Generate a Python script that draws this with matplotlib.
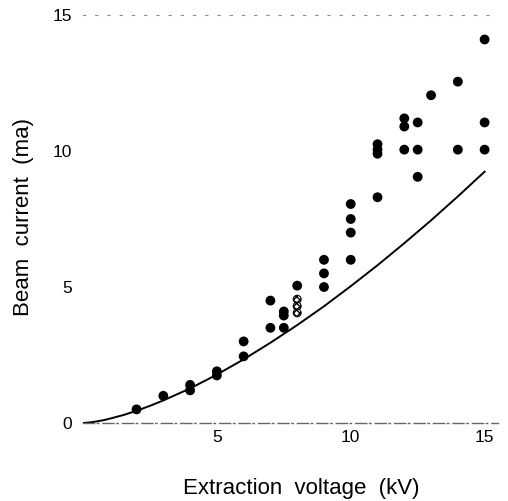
import matplotlib
matplotlib.use("Agg")
import matplotlib.pyplot as plt

plt.rcParams['font.family'] = ['Liberation Sans', 'DejaVu Sans']

# Measured beam current (filled markers)
voltage = [2, 3, 4, 4, 5, 5, 6, 6, 7, 7, 7.5, 7.5, 7.5, 8,
           9, 9, 9, 10, 10, 10, 10, 11, 11, 11, 11,
           12, 12, 12, 12.5, 12.5, 12.5, 13, 14, 14, 15, 15, 15]
current = [0.5, 1.0, 1.4, 1.2, 1.9, 1.75, 2.45, 3.0, 3.5, 4.5, 3.5, 3.95, 4.1, 5.05,
           6.0, 5.5, 5.0, 8.05, 7.5, 7.0, 6.0, 10.25, 10.05, 9.9, 8.3,
           11.2, 10.9, 10.05, 11.05, 10.05, 9.05, 12.05, 12.55, 10.05, 14.1, 11.05, 10.05]

# Hatched (open) markers
voltage_h = [8, 8, 8]
current_h = [4.55, 4.3, 4.05]

# Theoretical curve
curve_v = [0, 0.25, 0.5, 0.75, 1, 1.5, 2, 2.5, 3, 4, 5, 6, 7, 8, 9, 10, 11, 12, 13, 14, 15]
curve_i = [0, 0.02, 0.056, 0.10, 0.16, 0.29, 0.45, 0.63, 0.83, 1.27, 1.78, 2.34,
           2.95, 3.6, 4.29, 5.03, 5.8, 6.61, 7.45, 8.33, 9.24]

x_ticks = [5, 10, 15]
y_ticks = [0, 5, 10, 15]

fig = plt.figure(figsize=(5.08, 5.01), dpi=100)
ax = fig.add_axes([83/508, 78/501, 415/508, 408/501])

ax.plot(curve_v, curve_i, color='black', lw=1.4, zorder=2)
ax.scatter(voltage, current, s=50, color='black', edgecolors='none', zorder=3)
ax.scatter(voltage_h, current_h, s=32, facecolor='white', edgecolors='black',
           hatch='xxxxx', linewidths=0.8, zorder=3)

ax.set_xlim(0, 15.5)
ax.set_ylim(0, 15)
ax.set_xticks(x_ticks)
ax.set_yticks(y_ticks)
ax.tick_params(axis='both', length=0, labelsize=12.5)
ax.tick_params(axis='x', pad=5)
ax.tick_params(axis='y', pad=8)

ax.spines['left'].set_visible(False)
ax.spines['right'].set_visible(False)
ax.spines['bottom'].set_color('0.4')
ax.spines['bottom'].set_linewidth(1.0)
ax.spines['bottom'].set_linestyle((0, (8, 2, 1, 3)))
ax.spines['top'].set_color('0.55')
ax.spines['top'].set_linewidth(0.8)
ax.spines['top'].set_linestyle((0, (2, 9)))

ax.set_xlabel('Extraction  voltage  (kV)', fontsize=16)
ax.xaxis.set_label_coords(0.525, -0.135)
ax.set_ylabel('Beam  current  (ma)', fontsize=16)
ax.yaxis.set_label_coords(-0.117, 0.505)

fig.savefig('out.png', dpi=100)
